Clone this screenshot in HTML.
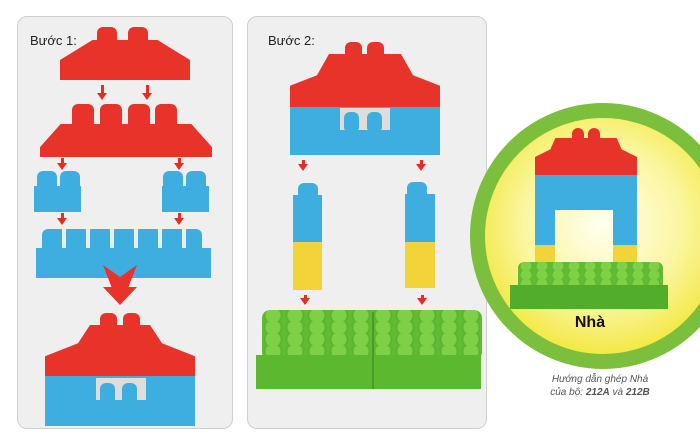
<!DOCTYPE html><html><head><meta charset="utf-8"><style>
body{margin:0;width:700px;height:440px;background:#fff;position:relative;overflow:hidden;font-family:"Liberation Sans",sans-serif}
div{position:absolute;box-sizing:border-box}
.p{background:#efefef;border:1px solid #cfcfcf;border-radius:10px}
.r{background:#e8332a}.b{background:#3eaee0}.y{background:#f2d43a}.g{background:#6cc33a}
.s{border-radius:6px 6px 2px 2px}
.ar{width:3px;background:#e62d24}
.ar:after{content:"";position:absolute;left:-4px;bottom:-5px;border-left:5.5px solid transparent;border-right:5.5px solid transparent;border-top:7px solid #e62d24}
.t{font-size:13px;color:#222}
</style></head><body>
<div class="p" style="left:17px;top:16px;width:216px;height:413px"></div>
<div class="p" style="left:247px;top:16px;width:240px;height:413px"></div>
<div class="t" style="left:30px;top:33px">Bước 1:</div>
<div class="t" style="left:268px;top:33px">Bước 2:</div>

<!-- panel1 -->
<div class="r s" style="left:97px;top:27px;width:20px;height:20px"></div>
<div class="r s" style="left:128px;top:27px;width:20px;height:20px"></div>
<div class="r" style="left:60px;top:40px;width:130px;height:40px;clip-path:polygon(25% 0,75% 0,100% 50%,100% 100%,0 100%,0 50%)"></div>
<div class="ar" style="left:101px;top:85px;height:10px"></div>
<div class="ar" style="left:146px;top:85px;height:10px"></div>
<div class="r s" style="left:72px;top:104px;width:22px;height:24px"></div>
<div class="r s" style="left:100px;top:104px;width:22px;height:24px"></div>
<div class="r s" style="left:128px;top:104px;width:22px;height:24px"></div>
<div class="r s" style="left:155px;top:104px;width:22px;height:24px"></div>
<div class="r" style="left:40px;top:124px;width:172px;height:33px;clip-path:polygon(12% 0,88% 0,100% 70%,100% 100%,0 100%,0 70%)"></div>
<div class="ar" style="left:61px;top:158px;height:7px"></div>
<div class="ar" style="left:178px;top:158px;height:7px"></div>
<div class="b s" style="left:37px;top:171px;width:20px;height:17px"></div>
<div class="b s" style="left:60px;top:171px;width:20px;height:17px"></div>
<div class="b" style="left:34px;top:186px;width:47px;height:26px"></div>
<div class="b s" style="left:163px;top:171px;width:20px;height:17px"></div>
<div class="b s" style="left:186px;top:171px;width:20px;height:17px"></div>
<div class="b" style="left:162px;top:186px;width:47px;height:26px"></div>
<div class="ar" style="left:61px;top:213px;height:7px"></div>
<div class="ar" style="left:178px;top:213px;height:7px"></div>
<div class="b s" style="left:42px;top:229px;width:160px;height:22px;background:repeating-linear-gradient(90deg,#3eaee0 0 20px,#e9f0f3 20px 24px)"></div>
<div class="b" style="left:36px;top:248px;width:175px;height:30px"></div>
<div class="r" style="left:103px;top:265px;width:34px;height:40px;clip-path:polygon(0 0,50% 30%,100% 0,75% 55%,100% 55%,50% 100%,0 55%,25% 55%)"></div>
<div class="r s" style="left:100px;top:313px;width:17px;height:18px"></div>
<div class="r s" style="left:123px;top:313px;width:17px;height:18px"></div>
<div class="r" style="left:45px;top:325px;width:150px;height:52px;clip-path:polygon(30% 0,70% 0,78% 35%,100% 60%,100% 100%,0 100%,0 60%,22% 35%)"></div>
<div class="b" style="left:45px;top:376px;width:150px;height:50px"></div>
<div style="left:96px;top:378px;width:50px;height:22px;background:#ddd"></div>
<div class="b s" style="left:100px;top:383px;width:15px;height:18px"></div>
<div class="b s" style="left:122px;top:383px;width:15px;height:18px"></div>

<!-- panel2 -->
<div class="r s" style="left:345px;top:42px;width:17px;height:16px"></div>
<div class="r s" style="left:367px;top:42px;width:17px;height:16px"></div>
<div class="r" style="left:290px;top:54px;width:150px;height:53px;clip-path:polygon(26% 0,74% 0,82% 40%,100% 60%,100% 100%,0 100%,0 60%,18% 40%)"></div>
<div class="b" style="left:290px;top:107px;width:150px;height:48px"></div>
<div style="left:340px;top:108px;width:50px;height:22px;background:#ddd"></div>
<div class="b s" style="left:344px;top:112px;width:15px;height:18px"></div>
<div class="b s" style="left:367px;top:112px;width:15px;height:18px"></div>
<div class="ar" style="left:302px;top:160px;height:6px"></div>
<div class="ar" style="left:420px;top:160px;height:6px"></div>
<div class="b s" style="left:298px;top:183px;width:20px;height:14px"></div>
<div class="b" style="left:293px;top:195px;width:29px;height:47px"></div>
<div class="y" style="left:293px;top:242px;width:29px;height:48px"></div>
<div class="b s" style="left:407px;top:182px;width:20px;height:14px"></div>
<div class="b" style="left:405px;top:194px;width:30px;height:48px"></div>
<div class="y" style="left:405px;top:242px;width:30px;height:46px"></div>
<div class="ar" style="left:304px;top:295px;height:5px"></div>
<div class="ar" style="left:421px;top:295px;height:5px"></div>
<div style="left:262px;top:310px;width:220px;height:50px;background:radial-gradient(circle at 50% 45%,#7ed047 0 7px,#5bb52f 8px 9px,transparent 10px) 0 0/22px 12px,#62bb33;border-radius:8px"></div>
<div class="g" style="left:256px;top:355px;width:225px;height:34px;background:#5cb82f"></div>
<div style="left:372px;top:312px;width:2px;height:77px;background:#4a9a26"></div>

<!-- circle -->
<div style="left:470px;top:103px;width:266px;height:266px;border-radius:50%;border:15px solid #7bbf3d;background:radial-gradient(circle at 50% 45%,#fffff0 0,#fbf6a0 45%,#f1e633 80%,#ecdb1f 100%)"></div>
<div class="r s" style="left:572px;top:128px;width:12px;height:14px"></div>
<div class="r s" style="left:588px;top:128px;width:12px;height:14px"></div>
<div class="r" style="left:535px;top:138px;width:102px;height:38px;clip-path:polygon(20% 0,80% 0,85% 30%,100% 50%,100% 100%,0 100%,0 50%,15% 30%)"></div>
<div class="b" style="left:535px;top:175px;width:102px;height:35px"></div>
<div class="b" style="left:535px;top:208px;width:20px;height:38px"></div>
<div class="b" style="left:613px;top:208px;width:24px;height:38px"></div>
<div class="y" style="left:535px;top:245px;width:20px;height:30px"></div>
<div class="y" style="left:613px;top:245px;width:24px;height:30px"></div>
<div style="left:518px;top:262px;width:145px;height:30px;background:radial-gradient(circle at 50% 45%,#7ed047 0 5px,#5bb52f 6px,transparent 7px) 0 0/16px 9px,#62bb33;border-radius:6px"></div>
<div class="g" style="left:510px;top:285px;width:158px;height:24px;background:#52ad2a"></div>
<div style="left:560px;top:314px;width:60px;text-align:center;font-weight:bold;font-size:16px;color:#111">Nhà</div>
<div style="left:540px;top:373px;width:120px;text-align:center;font-style:italic;font-size:10px;color:#555;line-height:13px">Hướng dẫn ghép Nhà<br>của bộ: <b>212A</b> và <b>212B</b></div>
</body></html>
